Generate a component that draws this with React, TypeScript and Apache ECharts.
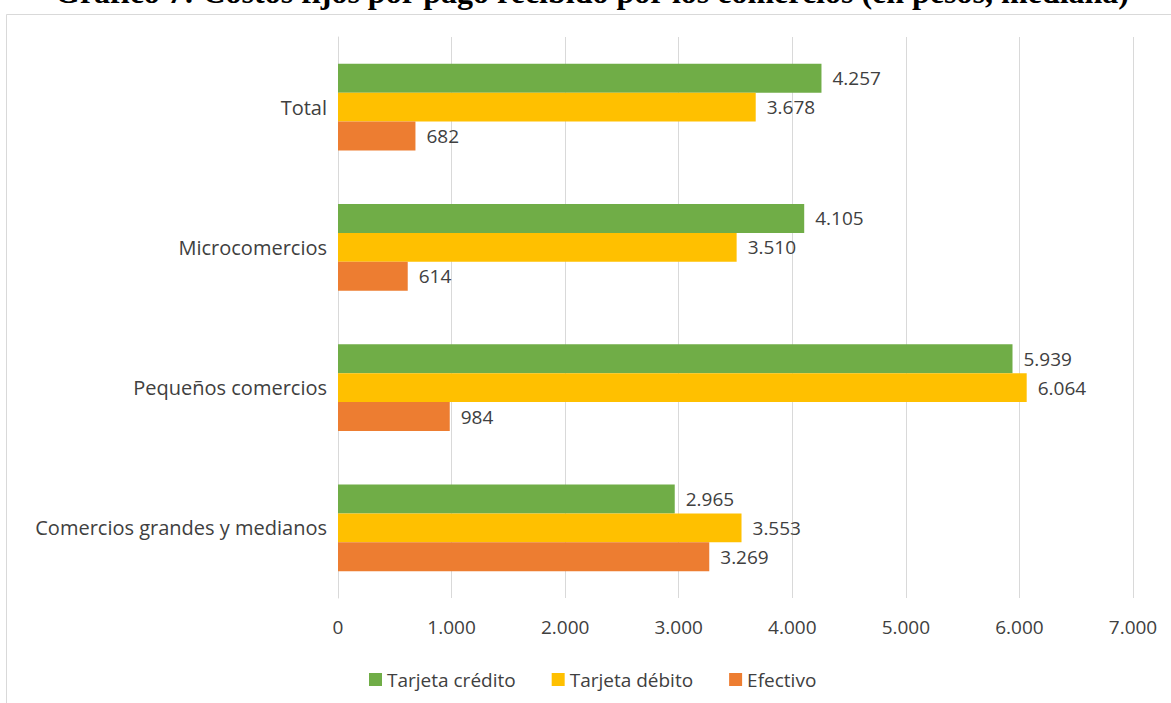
import React, { useEffect, useRef } from "react";
import * as echarts from "echarts";

const categories = ["Total", "Microcomercios", "Pequeños comercios", "Comercios grandes y medianos"];
const seriesNames = ["Tarjeta crédito", "Tarjeta débito", "Efectivo"];
const credito = [4257, 4105, 5939, 2965];
const debito = [3678, 3510, 6064, 3553];
const efectivo = [682, 614, 984, 3269];
const colors = ["#70AD47", "#FFC000", "#ED7D31"];
const xTicks = [0, 1000, 2000, 3000, 4000, 5000, 6000, 7000];
const title = "Gráfico 7: Costos fijos por pago recibido por los comercios (en pesos, mediana)";

const FONT = "Open Sans";
const FS = 19;
const fmt = (v: number) => v.toLocaleString("de-DE");

export default function App() {
  const ref = useRef<HTMLDivElement>(null);
  useEffect(() => {
    document.body.style.margin = "0";
    const chart = echarts.init(ref.current!, undefined, { renderer: "svg" });
    const data = [credito, debito, efectivo];
    chart.setOption({
      animation: false,
      backgroundColor: "#ffffff",
      graphic: [
        {
          type: "rect",
          shape: { x: 6.5, y: 14.5, width: 1200, height: 720 },
          style: { fill: "none", stroke: "#d9d9d9", lineWidth: 1 },
          silent: true,
        },
        {
          type: "text",
          x: 592,
          y: -8,
          style: {
            text: title,
            font: "bold 32px 'Liberation Serif'",
            fill: "#000",
            align: "center",
            verticalAlign: "middle",
          },
        },
      ],
      grid: { left: 338, right: 38, top: 37, bottom: 105, containLabel: false },
      legend: {
        left: 364,
        top: 665,
        itemWidth: 13,
        itemHeight: 13,
        itemGap: 36,
        icon: "rect",
        textStyle: { fontFamily: FONT, fontSize: FS, color: "#404040", padding: [0, 0, 0, 0] },
        data: seriesNames,
      },
      xAxis: {
        type: "value",
        min: 0,
        max: 7000,
        interval: 1000,
        axisLine: { show: false },
        axisTick: { show: false },
        splitLine: { lineStyle: { color: "#d9d9d9", width: 1 } },
        axisLabel: {
          fontFamily: FONT,
          fontSize: FS,
          color: "#404040",
          margin: 19,
          formatter: (v: number) => (xTicks.includes(v) ? fmt(v) : ""),
        },
      },
      yAxis: {
        type: "category",
        inverse: true,
        data: categories,
        axisLine: { show: true, lineStyle: { color: "#d9d9d9" } },
        axisTick: { show: false },
        axisLabel: { fontFamily: FONT, fontSize: 20, color: "#404040", margin: 11 },
      },
      series: seriesNames.map((name, i) => ({
        name,
        type: "bar",
        data: data[i],
        barGap: "0%",
        barCategoryGap: "38%",
        itemStyle: { color: colors[i] },
        label: {
          show: true,
          position: "right",
          distance: 11,
          fontFamily: FONT,
          fontSize: FS,
          color: "#404040",
          formatter: (p: any) => fmt(p.value),
        },
      })),
    });
    return () => chart.dispose();
  }, []);
  return <div ref={ref} style={{ width: 1171, height: 703 }} />;
}
